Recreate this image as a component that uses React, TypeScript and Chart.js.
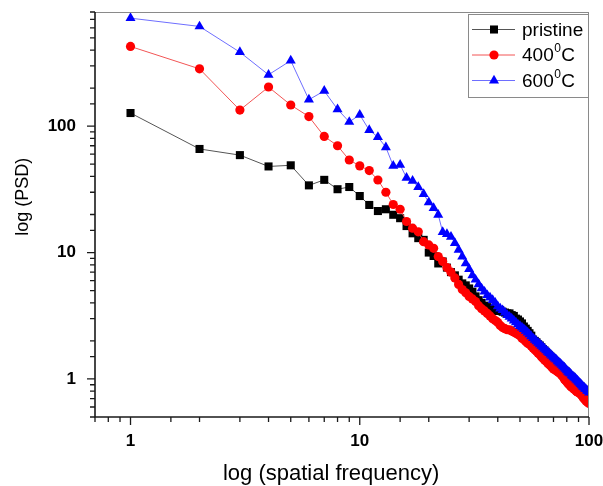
import React, { useEffect, useRef } from "react";
import { Chart, registerables } from "chart.js";
import { drawPoint } from "chart.js/helpers";

Chart.register(...registerables);

const FREQ = [
  1, 2, 3, 4, 5, 6, 7, 8, 9, 10,
  11, 12, 13, 14, 15, 16, 17, 18, 19, 20,
  21, 22, 23, 24, 25, 26, 27, 28, 29, 30,
  31, 32, 33, 34, 35, 36, 37, 38, 39, 40,
  41, 42, 43, 44, 45, 46, 47, 48, 49, 50,
  51, 52, 53, 54, 55, 56, 57, 58, 59, 60,
  61, 62, 63, 64, 65, 66, 67, 68, 69, 70,
  71, 72, 73, 74, 75, 76, 77, 78, 79, 80,
  81, 82, 83, 84, 85, 86, 87, 88, 89, 90,
  91, 92, 93, 94, 95, 96, 97, 98, 99, 100,
];

const PRISTINE = [
  127, 66, 59, 48, 49, 34, 37.6, 31.7, 33, 28,
  23.8, 21.3, 22, 19.9, 18.7, 16.2, 14.2, 13, 12.6, 10,
  9.4, 8.2, 8.5, 7.6, 7.0, 6.6, 6.1, 5.7, 5.5, 5.2,
  4.9, 4.5, 4.2, 4.0, 3.8, 3.7, 3.6, 3.55, 3.5, 3.45,
  3.5, 3.4, 3.35, 3.3, 3.3, 3.2, 3.15, 3.0, 2.95, 2.85,
  2.75, 2.6, 2.5, 2.4, 2.3, 2.2, 2.05, 2.0, 1.95, 1.88,
  1.84, 1.78, 1.72, 1.68, 1.62, 1.58, 1.54, 1.5, 1.46, 1.42,
  1.39, 1.35, 1.32, 1.29, 1.26, 1.23, 1.2, 1.17, 1.15, 1.12,
  1.1, 1.07, 1.05, 1.03, 1.0, 0.98, 0.96, 0.94, 0.92, 0.9,
  0.88, 0.87, 0.85, 0.83, 0.82, 0.8, 0.79, 0.77, 0.76, 0.74,
];

const T400 = [
  427, 284, 134, 204, 147, 119, 83, 70, 54, 48.5,
  44.5, 37.5, 30, 24, 22, 17.6, 15.6, 14.6, 12.2, 11.5,
  10.8, 9.3, 8.5, 7.6, 7.0, 6.3, 5.6, 5.1, 4.8, 4.5,
  4.3, 4.1, 3.8, 3.6, 3.45, 3.3, 3.15, 3.0, 2.9, 2.8,
  2.65, 2.55, 2.5, 2.45, 2.45, 2.4, 2.35, 2.3, 2.25, 2.2,
  2.1, 2.05, 1.98, 1.92, 1.88, 1.82, 1.76, 1.7, 1.66, 1.6,
  1.56, 1.5, 1.46, 1.41, 1.38, 1.34, 1.3, 1.27, 1.23, 1.2,
  1.18, 1.16, 1.14, 1.12, 1.1, 1.07, 1.04, 1.0, 0.97, 0.95,
  0.92, 0.9, 0.88, 0.86, 0.85, 0.83, 0.82, 0.8, 0.79, 0.78,
  0.77, 0.76, 0.74, 0.72, 0.7, 0.69, 0.67, 0.66, 0.65, 0.64,
];

const T600 = [
  715, 615, 385, 255, 330, 162, 190, 136, 108, 123,
  93, 82, 68, 48.5, 49.5, 39, 37, 33, 29, 25,
  22.5, 19.9, 14.5, 14, 13.3, 11.9, 10.5, 9.3, 8.2, 7.4,
  6.6, 6.1, 5.6, 5.2, 4.9, 4.6, 4.4, 4.2, 4.0, 3.75,
  3.6, 3.5, 3.35, 3.2, 3.1, 3.0, 2.9, 2.8, 2.7, 2.62,
  2.55, 2.48, 2.4, 2.33, 2.25, 2.17, 2.1, 2.04, 1.98, 1.93,
  1.88, 1.83, 1.78, 1.73, 1.68, 1.64, 1.6, 1.56, 1.52, 1.48,
  1.45, 1.42, 1.38, 1.35, 1.32, 1.29, 1.26, 1.23, 1.2, 1.17,
  1.14, 1.12, 1.1, 1.07, 1.05, 1.03, 1.01, 0.99, 0.97, 0.95,
  0.93, 0.91, 0.89, 0.87, 0.86, 0.84, 0.83, 0.81, 0.8, 0.78,
];

// legend labels: [main, superscript, tail]
const LEGEND_LABELS = [
  ["pristine", "", ""],
  ["400", "0", "C"],
  ["600", "0", "C"],
];
const X_TICK_LABELS = [1, 10, 100];
const Y_TICK_LABELS = [1, 10, 100];
const X_TITLE = "log (spatial frequency)";
const Y_TITLE = "log (PSD)";

const FONT = '"Liberation Sans", Arial, sans-serif';

const isDecade = (v: number) => {
  const l = Math.log10(v);
  return Math.abs(l - Math.round(l)) < 1e-9;
};

const framePlugin = {
  id: "frameTicks",
  afterDraw(chart: any) {
    const { ctx, chartArea } = chart;
    const { left, right, top, bottom } = chartArea;
    const xs = chart.scales.x;
    const ys = chart.scales.y;
    ctx.save();
    ctx.strokeStyle = "#8a8a8a";
    ctx.lineWidth = 1;
    ctx.beginPath();
    ctx.moveTo(left, top + 0.5);
    ctx.lineTo(right, top + 0.5);
    ctx.moveTo(right - 0.5, top);
    ctx.lineTo(right - 0.5, bottom);
    ctx.stroke();
    ctx.strokeStyle = "#1a1a1a";
    ctx.lineWidth = 1.6;
    ctx.beginPath();
    ctx.moveTo(left, top);
    ctx.lineTo(left, bottom + 0.8);
    ctx.moveTo(left - 0.8, bottom);
    ctx.lineTo(right, bottom);
    ctx.stroke();
    ctx.lineWidth = 1.3;
    ctx.beginPath();
    xs.ticks.forEach((t: any) => {
      const px = xs.getPixelForValue(t.value);
      if (px < left - 0.5 || px > right + 0.5) return;
      const len = isDecade(t.value) ? 8 : 5;
      ctx.moveTo(px, bottom);
      ctx.lineTo(px, bottom + len);
    });
    ys.ticks.forEach((t: any) => {
      const py = ys.getPixelForValue(t.value);
      if (py < top - 0.5 || py > bottom + 0.5) return;
      const len = isDecade(t.value) ? 8 : 5;
      ctx.moveTo(left, py);
      ctx.lineTo(left - len, py);
    });
    ctx.stroke();

    // axis titles
    ctx.fillStyle = "#000";
    ctx.textAlign = "center";
    ctx.textBaseline = "middle";
    ctx.font = `22px ${FONT}`;
    ctx.fillText(X_TITLE, left + (right - left) * 0.478, bottom + 57);
    ctx.save();
    ctx.translate(23, top + (bottom - top) * 0.456);
    ctx.rotate(-Math.PI / 2);
    ctx.font = `18px ${FONT}`;
    ctx.fillText(Y_TITLE, 0, 0);
    ctx.restore();
    ctx.restore();
  },
};

const legendPlugin = {
  id: "customLegend",
  afterDraw(chart: any) {
    const { ctx, chartArea } = chart;
    const bw = 120;
    const bh = 83;
    const bx = chartArea.right - 1 - bw;
    const by = chartArea.top + 2;
    ctx.save();
    ctx.fillStyle = "#ffffff";
    ctx.fillRect(bx, by, bw, bh);
    ctx.strokeStyle = "#8a8a8a";
    ctx.lineWidth = 1;
    ctx.strokeRect(bx + 0.5, by + 0.5, bw, bh);
    chart.data.datasets.forEach((ds: any, i: number) => {
      const cy = by + 15.5 + i * 25.5;
      ctx.strokeStyle = ds.borderColor;
      ctx.lineWidth = 1;
      ctx.beginPath();
      ctx.moveTo(bx + 4, cy);
      ctx.lineTo(bx + 47, cy);
      ctx.stroke();
      ctx.fillStyle = ds.pointBackgroundColor;
      drawPoint(
        ctx,
        { pointStyle: ds.pointStyle, radius: ds.pointRadius, rotation: 0, borderWidth: 0 } as any,
        bx + 26,
        cy
      );
      const [main, sup, tail] = LEGEND_LABELS[i];
      ctx.fillStyle = "#000";
      ctx.textBaseline = "middle";
      ctx.textAlign = "left";
      ctx.font = `19px ${FONT}`;
      let tx = bx + 54;
      ctx.fillText(main, tx, cy + 1);
      tx += ctx.measureText(main).width;
      if (sup) {
        ctx.font = `12px ${FONT}`;
        ctx.fillText(sup, tx + 0.5, cy - 6);
        tx += ctx.measureText(sup).width + 1;
        ctx.font = `19px ${FONT}`;
        ctx.fillText(tail, tx, cy + 1);
      }
    });
    ctx.restore();
  },
};

export default function App() {
  const canvasRef = useRef<HTMLCanvasElement | null>(null);

  useEffect(() => {
    const canvas = canvasRef.current;
    if (!canvas) return;
    const mk = (vals: number[]) => FREQ.map((f, i) => ({ x: f, y: vals[i] }));
    const chart = new Chart(canvas, {
      type: "scatter",
      data: {
        datasets: [
          {
            label: "pristine",
            data: mk(PRISTINE),
            showLine: true,
            borderColor: "#555555",
            borderWidth: 1,
            pointStyle: "rect",
            pointRadius: 5.7,
            pointBackgroundColor: "#000000",
            pointBorderWidth: 0,
            order: 2,
            clip: 0,
          },
          {
            label: "400°C",
            data: mk(T400),
            showLine: true,
            borderColor: "#f25555",
            borderWidth: 1,
            pointStyle: "circle",
            pointRadius: 4.6,
            pointBackgroundColor: "#ff0000",
            pointBorderWidth: 0,
            order: 1,
            clip: 0,
          },
          {
            label: "600°C",
            data: mk(T600),
            showLine: true,
            borderColor: "#6e6eff",
            borderWidth: 1,
            pointStyle: "triangle",
            pointRadius: 5.8,
            pointBackgroundColor: "#0000ff",
            pointBorderWidth: 0,
            order: 0,
            clip: 0,
          },
        ],
      } as any,
      options: {
        animation: false,
        responsive: false,
        devicePixelRatio: 1,
        layout: { padding: { top: 12, right: 14, left: 0, bottom: 0 } },
        plugins: {
          legend: { display: false },
          tooltip: { enabled: false },
        },
        scales: {
          x: {
            type: "logarithmic",
            min: 0.7,
            max: 100,
            grid: { display: false, drawTicks: false },
            border: { display: false },
            ticks: {
              autoSkip: false,
              maxRotation: 0,
              padding: 14,
              color: "#000",
              font: { family: FONT, size: 17, weight: "bold" },
              callback: (v: any) => (X_TICK_LABELS.includes(Number(v)) ? String(v) : ""),
            },
            title: { display: false, text: X_TITLE },
            afterFit: (s: any) => {
              s.height = 69;
              s.paddingLeft = 0;
              s.paddingRight = 0;
            },
          },
          y: {
            type: "logarithmic",
            min: 0.5,
            max: 800,
            grid: { display: false, drawTicks: false },
            border: { display: false },
            ticks: {
              autoSkip: false,
              padding: 19,
              color: "#000",
              font: { family: FONT, size: 17, weight: "bold" },
              callback: (v: any) => (Y_TICK_LABELS.includes(Number(v)) ? String(v) : ""),
            },
            title: { display: false, text: Y_TITLE },
            afterFit: (s: any) => {
              s.width = 95;
              s.paddingTop = 0;
              s.paddingBottom = 0;
            },
          },
        },
      } as any,
      plugins: [framePlugin, legendPlugin],
    });
    return () => chart.destroy();
  }, []);

  return (
    <canvas
      ref={canvasRef}
      width={603}
      height={486}
      style={{ position: "fixed", left: 0, top: 0, display: "block", width: 603, height: 486 }}
    />
  );
}
